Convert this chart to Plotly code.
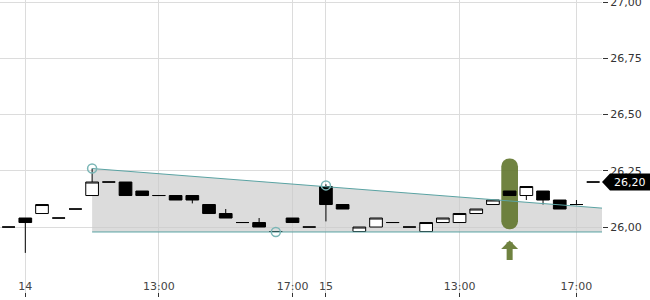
import plotly.graph_objects as go

# ---- data ----
idx = list(range(36))
opens  = [26.00, 26.04, 26.06, 26.04, 26.08, 26.14, 26.20, 26.20, 26.16, 26.14,
          26.14, 26.14, 26.10, 26.06, 26.02, 26.02, 25.98, 26.04, 26.00, 26.18,
          26.10, 25.98, 26.00, 26.02, 26.00, 25.98, 26.02, 26.02, 26.06, 26.10,
          26.16, 26.14, 26.16, 26.12, 26.10, 26.20]
highs  = [26.00, 26.04, 26.10, 26.04, 26.08, 26.26, 26.20, 26.20, 26.16, 26.14,
          26.14, 26.14, 26.10, 26.08, 26.02, 26.04, 25.98, 26.04, 26.00, 26.19,
          26.10, 26.00, 26.04, 26.02, 26.00, 26.02, 26.04, 26.06, 26.08, 26.12,
          26.16, 26.18, 26.16, 26.12, 26.12, 26.20]
lows   = [26.00, 25.885, 26.06, 26.04, 26.08, 26.14, 26.20, 26.14, 26.14, 26.14,
          26.12, 26.105, 26.06, 26.04, 26.02, 26.00, 25.98, 26.02, 26.00, 26.025,
          26.08, 25.98, 26.00, 26.02, 26.00, 25.98, 26.02, 26.02, 26.06, 26.10,
          26.14, 26.12, 26.10, 26.08, 26.097, 26.20]
closes = [26.00, 26.02, 26.10, 26.04, 26.08, 26.20, 26.20, 26.14, 26.14, 26.14,
          26.12, 26.12, 26.06, 26.04, 26.02, 26.00, 25.98, 26.02, 26.00, 26.10,
          26.08, 26.00, 26.04, 26.02, 26.00, 26.02, 26.04, 26.06, 26.08, 26.12,
          26.14, 26.18, 26.12, 26.08, 26.10, 26.20]

tick_idx = [1, 9, 17, 19, 27, 34]
tick_text = ["14", "13:00", "17:00", "15", "13:00", "17:00"]
y_ticks = [25.75, 26.00, 26.25, 26.50, 26.75, 27.00]

x_range = [-0.515, 35.53]
y_range = [25.689, 27.009]

# channel (triangle) pattern
chan_x = [5, x_range[1]]
chan_upper = [26.26, 26.084]
chan_lower = [25.978, 25.978]
pivot_x = [5, 16, 19]
pivot_y = [26.26, 25.978, 26.185]

# breakout signal
signal_idx = 30
signal_low = 25.99
signal_high = 26.305
arrow_tip = 25.94

teal = "#5aa3a3"
olive = "rgba(96,117,44,0.9)"

fig = go.Figure()

# shaded channel, drawn between gridlines and traces
fill_path = (f"M{chan_x[0]},{chan_upper[0]} L{chan_x[1]},{chan_upper[1]} "
             f"L{chan_x[1]},{chan_lower[1]} L{chan_x[0]},{chan_lower[0]} Z")
fig.add_shape(type="path", xref="x", yref="y", path=fill_path,
              fillcolor="rgba(202,202,202,0.66)", line=dict(width=0),
              layer="between")

fig.add_trace(go.Bar(x=[signal_idx], base=[signal_low],
                     y=[signal_high - signal_low], width=[1.0],
                     marker=dict(color=olive, line=dict(width=0), cornerradius=8),
                     hoverinfo="skip"))

fig.add_trace(go.Candlestick(
    x=idx, open=opens, high=highs, low=lows, close=closes,
    increasing=dict(line=dict(color="black", width=1), fillcolor="white"),
    decreasing=dict(line=dict(color="black", width=1), fillcolor="black"),
    whiskerwidth=0,
))

fig.add_trace(go.Scatter(x=chan_x, y=chan_upper, mode="lines",
                         line=dict(color=teal, width=1), hoverinfo="skip"))
fig.add_trace(go.Scatter(x=chan_x, y=chan_lower, mode="lines",
                         line=dict(color=teal, width=1), hoverinfo="skip"))

fig.add_trace(go.Scatter(x=pivot_x, y=pivot_y, mode="markers",
                         marker=dict(symbol="circle-open", size=9,
                                     color="#7ab6b6", line=dict(width=1.5)),
                         hoverinfo="skip"))

last = closes[-1]
fig.add_shape(type="path", xref="paper", yref="y",
              xsizemode="pixel", ysizemode="pixel",
              xanchor=1, yanchor=last,
              path="M0,0 L8,8.5 L48,8.5 L48,-8.5 L8,-8.5 Z",
              fillcolor="black", line=dict(width=0), layer="above")
fig.add_annotation(x=1, xref="paper", xanchor="left", xshift=10,
                   y=last, yref="y", yanchor="middle",
                   text=f"{last:.2f}".replace(".", ","), showarrow=False,
                   font=dict(color="white", size=11))

fig.add_annotation(x=signal_idx, y=arrow_tip, xref="x", yref="y",
                   ax=0, ay=21, axref="pixel", ayref="pixel",
                   showarrow=True, arrowhead=1, arrowsize=0.47, arrowwidth=6,
                   arrowcolor=olive, text="")

fig.update_layout(
    width=650, height=300,
    margin=dict(l=0, r=48, t=0, b=3, autoexpand=False),
    paper_bgcolor="white", plot_bgcolor="white",
    showlegend=False,
    separators=",.",
    font=dict(family="DejaVu Sans", size=11, color="#333333"),
    boxgap=0.24, boxgroupgap=0,
    xaxis=dict(range=x_range, rangeslider=dict(visible=False),
               tickmode="array", tickvals=tick_idx, ticktext=tick_text,
               ticks="inside", ticklen=4, tickcolor="#333333",
               ticklabelposition="inside", automargin=False,
               showgrid=True, gridcolor="#dcdcdc", gridwidth=1,
               zeroline=False, showline=False),
    yaxis=dict(range=y_range, side="right", tickmode="array", tickvals=y_ticks,
               tickformat=".2f", ticks="outside", ticklen=5, tickcolor="#333333",
               ticklabeloverflow="allow", automargin=False,
               showgrid=True, gridcolor="#dcdcdc", gridwidth=1,
               zeroline=False, showline=False),
)

fig.write_html("out.html")
